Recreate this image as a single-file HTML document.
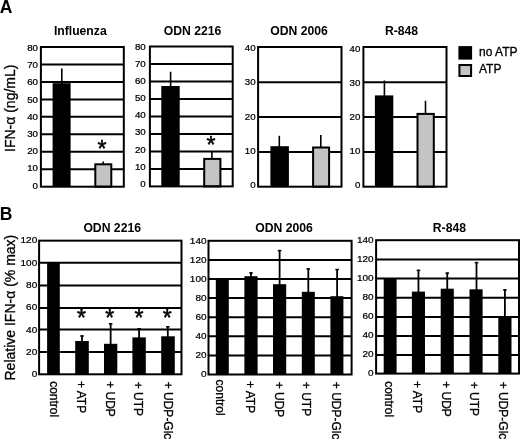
<!DOCTYPE html>
<html><head><meta charset="utf-8"><title>Figure</title>
<style>
html,body{margin:0;padding:0;background:#fff;}
body{width:520px;height:439px;overflow:hidden;}
svg{display:block;filter:grayscale(1);}
text{font-family:"Liberation Sans",sans-serif;fill:#000;}
.r{stroke:#000;stroke-width:0.3px;}
.r2{stroke:#000;stroke-width:0.25px;}
.st{font-family:"Liberation Sans",sans-serif;font-weight:normal;stroke:#000;stroke-width:0.55px;stroke-linejoin:round;}
</style></head><body>
<svg width="520" height="439" viewBox="0 0 520 439">
<rect x="0" y="0" width="520" height="439" fill="#fff"/>

<text x="-0.20" y="12.50" font-size="17.5" text-anchor="start" font-weight="bold">A</text>
<text x="-0.20" y="219.90" font-size="17.5" text-anchor="start" font-weight="bold">B</text>
<text x="14.80" y="152.00" font-size="14" text-anchor="start" class="r" transform="rotate(-90 14.80 152.00)">IFN-α (ng/mL)</text>
<text x="14.80" y="380.50" font-size="14" text-anchor="start" class="r" transform="rotate(-90 14.80 380.50)">Relative IFN-α (% max)</text>
<line x1="40.90" y1="169.24" x2="123.80" y2="169.24" stroke="#000" stroke-width="2.0"/>
<line x1="40.90" y1="151.77" x2="123.80" y2="151.77" stroke="#000" stroke-width="2.0"/>
<line x1="40.90" y1="134.31" x2="123.80" y2="134.31" stroke="#000" stroke-width="2.0"/>
<line x1="40.90" y1="116.85" x2="123.80" y2="116.85" stroke="#000" stroke-width="2.0"/>
<line x1="40.90" y1="99.39" x2="123.80" y2="99.39" stroke="#000" stroke-width="2.0"/>
<line x1="40.90" y1="81.92" x2="123.80" y2="81.92" stroke="#000" stroke-width="2.0"/>
<line x1="40.90" y1="64.46" x2="123.80" y2="64.46" stroke="#000" stroke-width="2.0"/>
<line x1="61.80" y1="68.50" x2="61.80" y2="84.20" stroke="#000" stroke-width="1.6"/>
<rect x="52.60" y="83.20" width="18.00" height="103.50" fill="#000"/>
<line x1="103.20" y1="161.60" x2="103.20" y2="164.30" stroke="#000" stroke-width="1.6"/>
<rect x="95.30" y="164.30" width="16.00" height="22.40" fill="#c4c4c4" stroke="#000" stroke-width="2.0"/>
<rect x="40.90" y="47.00" width="82.90" height="139.70" fill="none" stroke="#000" stroke-width="2.0"/>
<text transform="translate(38.00 188.65) scale(0.97 0.97)" font-size="10" text-anchor="end" class="r2">0</text>
<text transform="translate(38.00 171.45) scale(0.97 0.97)" font-size="10" text-anchor="end" class="r2">10</text>
<text transform="translate(38.00 154.25) scale(0.97 0.97)" font-size="10" text-anchor="end" class="r2">20</text>
<text transform="translate(38.00 137.05) scale(0.97 0.97)" font-size="10" text-anchor="end" class="r2">30</text>
<text transform="translate(38.00 119.85) scale(0.97 0.97)" font-size="10" text-anchor="end" class="r2">40</text>
<text transform="translate(38.00 102.65) scale(0.97 0.97)" font-size="10" text-anchor="end" class="r2">50</text>
<text transform="translate(38.00 85.45) scale(0.97 0.97)" font-size="10" text-anchor="end" class="r2">60</text>
<text transform="translate(38.00 68.25) scale(0.97 0.97)" font-size="10" text-anchor="end" class="r2">70</text>
<text transform="translate(38.00 51.05) scale(0.97 0.97)" font-size="10" text-anchor="end" class="r2">80</text>
<text x="80.30" y="34.80" font-size="12.2" text-anchor="middle" font-weight="bold">Influenza</text>
<text x="102.00" y="157.46" font-size="23" text-anchor="middle" class="st">*</text>
<line x1="149.90" y1="168.91" x2="232.70" y2="168.91" stroke="#000" stroke-width="2.0"/>
<line x1="149.90" y1="151.43" x2="232.70" y2="151.43" stroke="#000" stroke-width="2.0"/>
<line x1="149.90" y1="133.94" x2="232.70" y2="133.94" stroke="#000" stroke-width="2.0"/>
<line x1="149.90" y1="116.45" x2="232.70" y2="116.45" stroke="#000" stroke-width="2.0"/>
<line x1="149.90" y1="98.96" x2="232.70" y2="98.96" stroke="#000" stroke-width="2.0"/>
<line x1="149.90" y1="81.48" x2="232.70" y2="81.48" stroke="#000" stroke-width="2.0"/>
<line x1="149.90" y1="63.99" x2="232.70" y2="63.99" stroke="#000" stroke-width="2.0"/>
<line x1="170.60" y1="71.80" x2="170.60" y2="87.00" stroke="#000" stroke-width="1.6"/>
<rect x="161.30" y="86.00" width="18.40" height="100.40" fill="#000"/>
<line x1="211.90" y1="151.00" x2="211.90" y2="158.90" stroke="#000" stroke-width="1.6"/>
<rect x="204.20" y="158.90" width="16.20" height="27.50" fill="#c4c4c4" stroke="#000" stroke-width="2.0"/>
<rect x="149.90" y="46.50" width="82.80" height="139.90" fill="none" stroke="#000" stroke-width="2.0"/>
<text transform="translate(145.70 186.95) scale(0.97 0.97)" font-size="10" text-anchor="end" class="r2">0</text>
<text transform="translate(145.70 169.79) scale(0.97 0.97)" font-size="10" text-anchor="end" class="r2">10</text>
<text transform="translate(145.70 152.62) scale(0.97 0.97)" font-size="10" text-anchor="end" class="r2">20</text>
<text transform="translate(145.70 135.46) scale(0.97 0.97)" font-size="10" text-anchor="end" class="r2">30</text>
<text transform="translate(145.70 118.30) scale(0.97 0.97)" font-size="10" text-anchor="end" class="r2">40</text>
<text transform="translate(145.70 101.14) scale(0.97 0.97)" font-size="10" text-anchor="end" class="r2">50</text>
<text transform="translate(145.70 83.97) scale(0.97 0.97)" font-size="10" text-anchor="end" class="r2">60</text>
<text transform="translate(145.70 66.81) scale(0.97 0.97)" font-size="10" text-anchor="end" class="r2">70</text>
<text transform="translate(145.70 49.65) scale(0.97 0.97)" font-size="10" text-anchor="end" class="r2">80</text>
<text x="192.50" y="34.80" font-size="12.2" text-anchor="middle" font-weight="bold">ODN 2216</text>
<text x="211.00" y="152.66" font-size="23" text-anchor="middle" class="st">*</text>
<line x1="258.10" y1="152.00" x2="341.50" y2="152.00" stroke="#000" stroke-width="2.0"/>
<line x1="258.10" y1="117.00" x2="341.50" y2="117.00" stroke="#000" stroke-width="2.0"/>
<line x1="258.10" y1="82.30" x2="341.50" y2="82.30" stroke="#000" stroke-width="2.0"/>
<line x1="279.30" y1="135.80" x2="279.30" y2="147.20" stroke="#000" stroke-width="1.6"/>
<rect x="270.40" y="146.20" width="18.50" height="40.50" fill="#000"/>
<line x1="320.80" y1="135.00" x2="320.80" y2="147.50" stroke="#000" stroke-width="1.6"/>
<rect x="313.10" y="147.50" width="16.00" height="39.20" fill="#c4c4c4" stroke="#000" stroke-width="2.0"/>
<rect x="258.10" y="47.00" width="83.40" height="139.70" fill="none" stroke="#000" stroke-width="2.0"/>
<text transform="translate(255.60 187.55) scale(0.97 0.97)" font-size="10" text-anchor="end" class="r2">0</text>
<text transform="translate(255.60 153.52) scale(0.97 0.97)" font-size="10" text-anchor="end" class="r2">10</text>
<text transform="translate(255.60 119.50) scale(0.97 0.97)" font-size="10" text-anchor="end" class="r2">20</text>
<text transform="translate(255.60 85.48) scale(0.97 0.97)" font-size="10" text-anchor="end" class="r2">30</text>
<text transform="translate(255.60 51.45) scale(0.97 0.97)" font-size="10" text-anchor="end" class="r2">40</text>
<text x="299.00" y="34.80" font-size="12.2" text-anchor="middle" font-weight="bold">ODN 2006</text>
<line x1="363.40" y1="152.00" x2="446.50" y2="152.00" stroke="#000" stroke-width="2.0"/>
<line x1="363.40" y1="117.00" x2="446.50" y2="117.00" stroke="#000" stroke-width="2.0"/>
<line x1="363.40" y1="82.30" x2="446.50" y2="82.30" stroke="#000" stroke-width="2.0"/>
<line x1="384.40" y1="80.50" x2="384.40" y2="96.40" stroke="#000" stroke-width="1.6"/>
<rect x="374.90" y="95.40" width="18.40" height="91.30" fill="#000"/>
<line x1="425.50" y1="100.80" x2="425.50" y2="113.90" stroke="#000" stroke-width="1.6"/>
<rect x="417.50" y="113.90" width="16.30" height="72.80" fill="#c4c4c4" stroke="#000" stroke-width="2.0"/>
<rect x="363.40" y="47.00" width="83.10" height="139.70" fill="none" stroke="#000" stroke-width="2.0"/>
<text transform="translate(360.40 187.55) scale(0.97 0.97)" font-size="10" text-anchor="end" class="r2">0</text>
<text transform="translate(360.40 153.62) scale(0.97 0.97)" font-size="10" text-anchor="end" class="r2">10</text>
<text transform="translate(360.40 119.70) scale(0.97 0.97)" font-size="10" text-anchor="end" class="r2">20</text>
<text transform="translate(360.40 85.78) scale(0.97 0.97)" font-size="10" text-anchor="end" class="r2">30</text>
<text transform="translate(360.40 51.85) scale(0.97 0.97)" font-size="10" text-anchor="end" class="r2">40</text>
<text x="401.50" y="34.80" font-size="12.2" text-anchor="middle" font-weight="bold">R-848</text>
<rect x="458.40" y="46.10" width="13.70" height="13.50" fill="#000"/>
<rect x="459.40" y="65.00" width="11.70" height="11.00" fill="#c4c4c4" stroke="#000" stroke-width="2.0"/>
<text x="479.00" y="55.60" font-size="12" text-anchor="start" class="r">no ATP</text>
<text x="479.00" y="73.40" font-size="12" text-anchor="start" class="r">ATP</text>
<line x1="39.10" y1="352.00" x2="181.50" y2="352.00" stroke="#000" stroke-width="2.0"/>
<line x1="39.10" y1="329.50" x2="181.50" y2="329.50" stroke="#000" stroke-width="2.0"/>
<line x1="39.10" y1="308.00" x2="181.50" y2="308.00" stroke="#000" stroke-width="2.0"/>
<line x1="39.10" y1="285.40" x2="181.50" y2="285.40" stroke="#000" stroke-width="2.0"/>
<line x1="39.10" y1="262.80" x2="181.50" y2="262.80" stroke="#000" stroke-width="2.0"/>
<rect x="47.10" y="262.80" width="12.70" height="111.50" fill="#000"/>
<line x1="82.00" y1="335.40" x2="82.00" y2="342.00" stroke="#000" stroke-width="1.8"/>
<line x1="80.20" y1="336.00" x2="83.80" y2="336.00" stroke="#000" stroke-width="1.5"/>
<rect x="75.20" y="341.00" width="13.60" height="33.30" fill="#000"/>
<line x1="110.65" y1="323.20" x2="110.65" y2="344.80" stroke="#000" stroke-width="1.8"/>
<line x1="108.85" y1="323.80" x2="112.45" y2="323.80" stroke="#000" stroke-width="1.5"/>
<rect x="104.00" y="343.80" width="13.30" height="30.50" fill="#000"/>
<line x1="139.10" y1="328.20" x2="139.10" y2="338.40" stroke="#000" stroke-width="1.8"/>
<line x1="137.30" y1="328.80" x2="140.90" y2="328.80" stroke="#000" stroke-width="1.5"/>
<rect x="132.40" y="337.40" width="13.40" height="36.90" fill="#000"/>
<line x1="167.80" y1="326.20" x2="167.80" y2="337.30" stroke="#000" stroke-width="1.8"/>
<line x1="166.00" y1="326.80" x2="169.60" y2="326.80" stroke="#000" stroke-width="1.5"/>
<rect x="161.20" y="336.30" width="13.60" height="38.00" fill="#000"/>
<rect x="39.10" y="240.65" width="142.40" height="133.65" fill="none" stroke="#000" stroke-width="2.0"/>
<text transform="translate(37.20 377.40) scale(1 0.92)" font-size="10" text-anchor="end" class="r2">0</text>
<text transform="translate(37.20 355.03) scale(1 0.92)" font-size="10" text-anchor="end" class="r2">20</text>
<text transform="translate(37.20 332.67) scale(1 0.92)" font-size="10" text-anchor="end" class="r2">40</text>
<text transform="translate(37.20 310.30) scale(1 0.92)" font-size="10" text-anchor="end" class="r2">60</text>
<text transform="translate(37.20 287.93) scale(1 0.92)" font-size="10" text-anchor="end" class="r2">80</text>
<text transform="translate(37.20 265.57) scale(1 0.92)" font-size="10" text-anchor="end" class="r2">100</text>
<text transform="translate(37.20 243.20) scale(1 0.92)" font-size="10" text-anchor="end" class="r2">120</text>
<text x="112.20" y="231.60" font-size="12.2" text-anchor="middle" font-weight="bold">ODN 2216</text>
<text x="81.50" y="326.36" font-size="23" text-anchor="middle" class="st">*</text>
<text x="109.70" y="326.36" font-size="23" text-anchor="middle" class="st">*</text>
<text x="139.00" y="326.36" font-size="23" text-anchor="middle" class="st">*</text>
<text x="167.30" y="326.36" font-size="23" text-anchor="middle" class="st">*</text>
<text x="49.55" y="381.15" font-size="12" text-anchor="start" class="r" transform="rotate(90 49.55 381.15)">control</text>
<text x="77.05" y="381.05" font-size="12" text-anchor="start" class="r" transform="rotate(90 77.05 381.05)">+ ATP</text>
<text x="106.20" y="381.20" font-size="12" text-anchor="start" class="r" transform="rotate(90 106.20 381.20)">+ UDP</text>
<text x="133.95" y="381.65" font-size="12" text-anchor="start" class="r" transform="rotate(90 133.95 381.65)">+ UTP</text>
<text x="163.50" y="381.70" font-size="12" text-anchor="start" class="r" transform="rotate(90 163.50 381.70)">+ UDP-Glc</text>
<line x1="208.50" y1="355.40" x2="351.60" y2="355.40" stroke="#000" stroke-width="2.0"/>
<line x1="208.50" y1="336.30" x2="351.60" y2="336.30" stroke="#000" stroke-width="2.0"/>
<line x1="208.50" y1="317.20" x2="351.60" y2="317.20" stroke="#000" stroke-width="2.0"/>
<line x1="208.50" y1="298.10" x2="351.60" y2="298.10" stroke="#000" stroke-width="2.0"/>
<line x1="208.50" y1="279.00" x2="351.60" y2="279.00" stroke="#000" stroke-width="2.0"/>
<line x1="208.50" y1="259.90" x2="351.60" y2="259.90" stroke="#000" stroke-width="2.0"/>
<rect x="215.80" y="279.00" width="13.00" height="95.50" fill="#000"/>
<line x1="251.00" y1="272.30" x2="251.00" y2="277.20" stroke="#000" stroke-width="1.8"/>
<line x1="249.20" y1="272.90" x2="252.80" y2="272.90" stroke="#000" stroke-width="1.5"/>
<rect x="244.40" y="276.20" width="13.20" height="98.30" fill="#000"/>
<line x1="279.60" y1="250.00" x2="279.60" y2="285.20" stroke="#000" stroke-width="1.8"/>
<line x1="277.80" y1="250.60" x2="281.40" y2="250.60" stroke="#000" stroke-width="1.5"/>
<rect x="273.00" y="284.20" width="13.20" height="90.30" fill="#000"/>
<line x1="308.30" y1="268.40" x2="308.30" y2="292.80" stroke="#000" stroke-width="1.8"/>
<line x1="306.50" y1="269.00" x2="310.10" y2="269.00" stroke="#000" stroke-width="1.5"/>
<rect x="301.80" y="291.80" width="13.00" height="82.70" fill="#000"/>
<line x1="337.10" y1="268.90" x2="337.10" y2="297.20" stroke="#000" stroke-width="1.8"/>
<line x1="335.30" y1="269.50" x2="338.90" y2="269.50" stroke="#000" stroke-width="1.5"/>
<rect x="330.40" y="296.20" width="13.00" height="78.30" fill="#000"/>
<rect x="208.50" y="240.80" width="143.10" height="133.70" fill="none" stroke="#000" stroke-width="2.0"/>
<text transform="translate(206.50 376.50) scale(1 0.92)" font-size="10" text-anchor="end" class="r2">0</text>
<text transform="translate(206.50 357.59) scale(1 0.92)" font-size="10" text-anchor="end" class="r2">20</text>
<text transform="translate(206.50 338.67) scale(1 0.92)" font-size="10" text-anchor="end" class="r2">40</text>
<text transform="translate(206.50 319.76) scale(1 0.92)" font-size="10" text-anchor="end" class="r2">60</text>
<text transform="translate(206.50 300.84) scale(1 0.92)" font-size="10" text-anchor="end" class="r2">80</text>
<text transform="translate(206.50 281.93) scale(1 0.92)" font-size="10" text-anchor="end" class="r2">100</text>
<text transform="translate(206.50 263.01) scale(1 0.92)" font-size="10" text-anchor="end" class="r2">120</text>
<text transform="translate(206.50 244.10) scale(1 0.92)" font-size="10" text-anchor="end" class="r2">140</text>
<text x="284.00" y="231.60" font-size="12.2" text-anchor="middle" font-weight="bold">ODN 2006</text>
<text x="215.90" y="379.60" font-size="12" text-anchor="start" class="r" transform="rotate(90 215.90 379.60)">control</text>
<text x="245.75" y="381.05" font-size="12" text-anchor="start" class="r" transform="rotate(90 245.75 381.05)">+ ATP</text>
<text x="274.50" y="381.70" font-size="12" text-anchor="start" class="r" transform="rotate(90 274.50 381.70)">+ UDP</text>
<text x="302.45" y="381.80" font-size="12" text-anchor="start" class="r" transform="rotate(90 302.45 381.80)">+ UTP</text>
<text x="331.50" y="381.80" font-size="12" text-anchor="start" class="r" transform="rotate(90 331.50 381.80)">+ UDP-Glc</text>
<line x1="376.10" y1="355.10" x2="519.00" y2="355.10" stroke="#000" stroke-width="2.0"/>
<line x1="376.10" y1="336.00" x2="519.00" y2="336.00" stroke="#000" stroke-width="2.0"/>
<line x1="376.10" y1="316.90" x2="519.00" y2="316.90" stroke="#000" stroke-width="2.0"/>
<line x1="376.10" y1="297.70" x2="519.00" y2="297.70" stroke="#000" stroke-width="2.0"/>
<line x1="376.10" y1="278.60" x2="519.00" y2="278.60" stroke="#000" stroke-width="2.0"/>
<line x1="376.10" y1="259.50" x2="519.00" y2="259.50" stroke="#000" stroke-width="2.0"/>
<rect x="383.70" y="278.30" width="12.90" height="95.30" fill="#000"/>
<line x1="418.45" y1="269.80" x2="418.45" y2="292.60" stroke="#000" stroke-width="1.8"/>
<line x1="416.65" y1="270.40" x2="420.25" y2="270.40" stroke="#000" stroke-width="1.5"/>
<rect x="411.90" y="291.60" width="13.10" height="82.00" fill="#000"/>
<line x1="447.25" y1="272.50" x2="447.25" y2="289.70" stroke="#000" stroke-width="1.8"/>
<line x1="445.45" y1="273.10" x2="449.05" y2="273.10" stroke="#000" stroke-width="1.5"/>
<rect x="440.70" y="288.70" width="13.10" height="84.90" fill="#000"/>
<line x1="476.50" y1="262.00" x2="476.50" y2="290.30" stroke="#000" stroke-width="1.8"/>
<line x1="474.70" y1="262.60" x2="478.30" y2="262.60" stroke="#000" stroke-width="1.5"/>
<rect x="469.50" y="289.30" width="13.10" height="84.30" fill="#000"/>
<line x1="504.90" y1="289.30" x2="504.90" y2="318.00" stroke="#000" stroke-width="1.8"/>
<line x1="503.10" y1="289.90" x2="506.70" y2="289.90" stroke="#000" stroke-width="1.5"/>
<rect x="498.30" y="317.00" width="13.20" height="56.60" fill="#000"/>
<rect x="376.10" y="240.20" width="142.90" height="133.40" fill="none" stroke="#000" stroke-width="2.0"/>
<text transform="translate(373.60 375.90) scale(1 0.92)" font-size="10" text-anchor="end" class="r2">0</text>
<text transform="translate(373.60 356.97) scale(1 0.92)" font-size="10" text-anchor="end" class="r2">20</text>
<text transform="translate(373.60 338.04) scale(1 0.92)" font-size="10" text-anchor="end" class="r2">40</text>
<text transform="translate(373.60 319.11) scale(1 0.92)" font-size="10" text-anchor="end" class="r2">60</text>
<text transform="translate(373.60 300.19) scale(1 0.92)" font-size="10" text-anchor="end" class="r2">80</text>
<text transform="translate(373.60 281.26) scale(1 0.92)" font-size="10" text-anchor="end" class="r2">100</text>
<text transform="translate(373.60 262.33) scale(1 0.92)" font-size="10" text-anchor="end" class="r2">120</text>
<text transform="translate(373.60 243.40) scale(1 0.92)" font-size="10" text-anchor="end" class="r2">140</text>
<text x="449.40" y="231.60" font-size="12.2" text-anchor="middle" font-weight="bold">R-848</text>
<text x="384.95" y="381.15" font-size="12" text-anchor="start" class="r" transform="rotate(90 384.95 381.15)">control</text>
<text x="413.20" y="381.05" font-size="12" text-anchor="start" class="r" transform="rotate(90 413.20 381.05)">+ ATP</text>
<text x="441.80" y="381.20" font-size="12" text-anchor="start" class="r" transform="rotate(90 441.80 381.20)">+ UDP</text>
<text x="470.30" y="381.65" font-size="12" text-anchor="start" class="r" transform="rotate(90 470.30 381.65)">+ UTP</text>
<text x="498.95" y="381.70" font-size="12" text-anchor="start" class="r" transform="rotate(90 498.95 381.70)">+ UDP-Glc</text>
</svg>
</body></html>
